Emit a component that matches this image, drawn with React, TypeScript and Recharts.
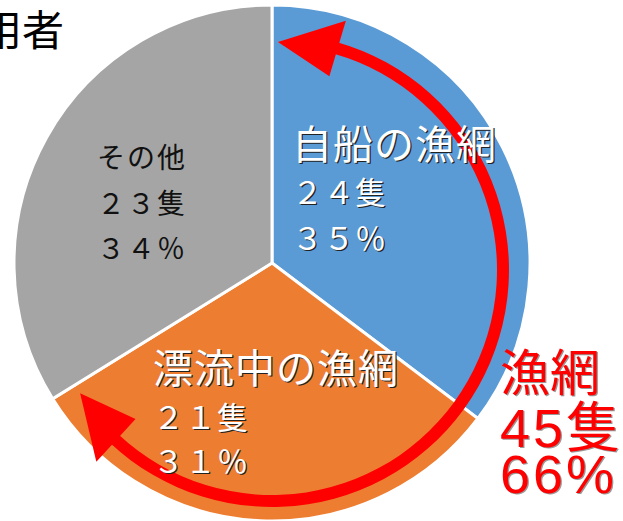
import React from "react";
import { Pie, PieChart } from "recharts";

const categories = ["自船の漁網", "漂流中の漁網", "その他"];
const counts = [24, 21, 23];
const countLabels = ["２４隻", "２１隻", "２３隻"];
const percentLabels = ["３５％", "３１％", "３４％"];
const colors = ["#5B9BD5", "#ED7D31", "#A5A5A5"];

const netLabel = ["漁網", "45隻", "66%"];
const netCount = [45];
const titleText = "使用者";

const W = 623;
const H = 521;
const CX = 272;
const CY = 263;
const RING_CY = 270;
const ARC_START = 73.5;
const ARC_END = -132.5;
const JP = "'Noto Sans CJK JP', sans-serif";
const LATIN = "'Liberation Sans', 'Noto Sans CJK JP', sans-serif";

// where each slice's label block sits (left edge, baselines)
const labelLayout = [
  { x: 292, base: [159, 204, 250], titleSize: 40, numSize: 31, spacing: 0.5, fill: "#fff", shadow: true },
  { x: 153, base: [383, 429, 473], titleSize: 40, numSize: 31, spacing: 1, fill: "#fff", shadow: true },
  { x: 97, base: [168, 214, 259], titleSize: 28, numSize: 28, spacing: 2, fill: "#111", shadow: false },
];

const pieData = categories.map((name, i) => ({ name, value: counts[i], fill: colors[i] }));
const ringData = netCount.map((value) => ({ name: netLabel[0], value, fill: "#FF0000" }));

const polar = (cx: number, cy: number, r: number, deg: number) => {
  const a = (deg * Math.PI) / 180;
  return [cx + r * Math.cos(a), cy - r * Math.sin(a)];
};

function ShadowText({ x, y, text, size, fill, shadow, spacing, family }: any) {
  return (
    <g fontFamily={family} fontSize={size} letterSpacing={spacing}>
      {shadow && (
        <text x={x + 1.3} y={y + 1.3} fill={shadow}>
          {text}
        </text>
      )}
      <text x={x} y={y} fill={fill}>
        {text}
      </text>
    </g>
  );
}

function arrowHead(cx: number, cy: number, baseDeg: number, tipDeg: number) {
  const mid = 231;
  const half = 29;
  const [ax, ay] = polar(cx, cy, mid + half, baseDeg);
  const [bx, by] = polar(cx, cy, mid - half, baseDeg);
  const [tx, ty] = polar(cx, cy, 228, tipDeg);
  return `${ax},${ay} ${tx},${ty} ${bx},${by}`;
}

const renderArrows = (props: any) => {
  if (props.index !== 0) return null;
  const { cx, cy } = props;
  return (
    <g>
      <polygon points={arrowHead(cx, cy, ARC_START, 88.5)} fill="#FF0000" />
      <polygon points={arrowHead(cx, cy, ARC_END, -147.3)} fill="#FF0000" />
    </g>
  );
};

export default function App() {
  return (
    <div style={{ position: "absolute", left: 0, top: 0, width: W, height: H, background: "#fff", overflow: "hidden" }}>
      <PieChart width={W} height={H} margin={{ top: 0, right: 0, bottom: 0, left: 0 }}>
        <Pie
          data={pieData}
          dataKey="value"
          nameKey="name"
          cx={CX}
          cy={CY}
          outerRadius={258}
          startAngle={90}
          endAngle={-270}
          stroke="#fff"
          strokeWidth={3}
          isAnimationActive={false}
          label={false}
          labelLine={false}
        />
        <Pie
          data={ringData}
          dataKey="value"
          cx={CX}
          cy={RING_CY}
          innerRadius={225}
          outerRadius={237}
          startAngle={ARC_START + 0.5}
          endAngle={ARC_END - 0.5}
          stroke="none"
          isAnimationActive={false}
          label={renderArrows}
          labelLine={false}
        />
      </PieChart>
      <svg width={W} height={H} style={{ position: "absolute", left: 0, top: 0 }}>
        <text x={64} y={46} fontFamily={JP} fontSize={42} fill="#000" textAnchor="end">
          {titleText}
        </text>
        {labelLayout.map((l, i) => (
          <g key={categories[i]}>
            <ShadowText x={l.x} y={l.base[0]} text={categories[i]} size={l.titleSize} fill={l.fill} shadow={l.shadow ? "#222" : null} spacing={l.shadow ? 1 : l.spacing} family={JP} />
            <ShadowText x={l.x} y={l.base[1]} text={countLabels[i]} size={l.numSize} fill={l.fill} shadow={l.shadow ? "#222" : null} spacing={l.spacing} family={JP} />
            <ShadowText x={l.x} y={l.base[2]} text={percentLabels[i]} size={l.numSize} fill={l.fill} shadow={l.shadow ? "#222" : null} spacing={l.spacing} family={JP} />
          </g>
        ))}
        <ShadowText x={500} y={391} text={netLabel[0]} size={50} fill="#FF0000" shadow="#999" spacing={0} family={JP} />
        <ShadowText x={500} y={447} text={netLabel[1]} size={54} fill="#FF0000" shadow="#999" spacing={3} family={LATIN} />
        <ShadowText x={500} y={493} text={netLabel[2]} size={54} fill="#FF0000" shadow="#999" spacing={3} family={LATIN} />
      </svg>
    </div>
  );
}
